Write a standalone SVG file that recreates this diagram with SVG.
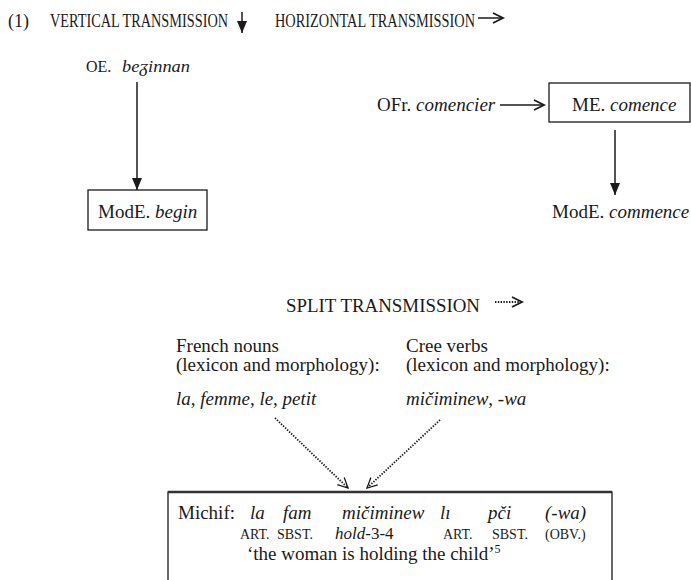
<svg xmlns="http://www.w3.org/2000/svg" width="691" height="580" viewBox="0 0 691 580">
<style>
text{font-family:"Liberation Serif","Times New Roman",serif;font-size:19px;fill:#1a1a1a}
.i{font-style:italic}
.sc{font-size:14px}
.hd{font-size:18px}
.ln{stroke:#1a1a1a;stroke-width:1.5;fill:none}
.dot{stroke:#1a1a1a;stroke-width:1.8;fill:none;stroke-dasharray:1.4 1.4}
.box{fill:none;stroke:#1a1a1a;stroke-width:1.3}
</style>
<defs>
<marker id="fa" markerUnits="userSpaceOnUse" markerWidth="12" markerHeight="12" refX="12" refY="5" orient="auto"><path d="M0,0 L12,5 L0,10 z" fill="#1a1a1a"/></marker>
<marker id="ch" markerUnits="userSpaceOnUse" markerWidth="14" markerHeight="14" refX="11" refY="6" orient="auto"><path d="M1,1 L11,6 L1,11" fill="none" stroke="#1a1a1a" stroke-width="1.8"/></marker>
<marker id="chd" markerUnits="userSpaceOnUse" markerWidth="14" markerHeight="14" refX="11" refY="6" orient="auto"><path d="M1,1 L11,6 L1,11" fill="none" stroke="#1a1a1a" stroke-width="1.3"/></marker>
</defs>
<g id="header">
<text class="hd" x="8" y="27">(1)</text>
<text class="hd" x="50" y="27" textLength="178" lengthAdjust="spacingAndGlyphs">VERTICAL TRANSMISSION</text>
<text class="hd" x="275" y="27" textLength="200" lengthAdjust="spacingAndGlyphs">HORIZONTAL TRANSMISSION</text>
<text x="286" y="312" textLength="194" lengthAdjust="spacingAndGlyphs">SPLIT TRANSMISSION</text>
</g>
<g id="legend-arrows">
<line class="ln" x1="242" y1="12" x2="242" y2="33" marker-end="url(#fa)"/>
<line class="ln" x1="478" y1="18" x2="503" y2="18" marker-end="url(#ch)" stroke-width="2"/>
<line class="dot" x1="495" y1="302" x2="522" y2="302" marker-end="url(#ch)"/>
</g>
<g id="n-oe">
<text x="86" y="72" style="font-size:16px">OE.</text>
<text x="122" y="72" class="i" style="font-size:17px" textLength="68" lengthAdjust="spacingAndGlyphs">beᵹinnan</text>
</g>
<g id="n-mode-begin">
<rect class="box" x="88" y="190" width="119" height="40"/>
<text x="98" y="218">ModE. <tspan class="i">begin</tspan></text>
</g>
<g id="n-ofr">
<text x="377" y="111">OFr. <tspan class="i">comencier</tspan></text>
</g>
<g id="n-me">
<rect class="box" x="549" y="83" width="141" height="39"/>
<text x="572" y="111">ME. <tspan class="i">comence</tspan></text>
</g>
<g id="n-mode-commence">
<text x="552" y="218">ModE. <tspan class="i">commence</tspan></text>
</g>
<g id="n-french">
<text x="176" y="352">French nouns</text>
<text x="176" y="371">(lexicon and morphology):</text>
<text x="176" y="405"><tspan class="i">la</tspan>, <tspan class="i">femme</tspan>, <tspan class="i">le</tspan>, <tspan class="i">petit</tspan></text>
</g>
<g id="n-cree">
<text x="406" y="352">Cree verbs</text>
<text x="406" y="371">(lexicon and morphology):</text>
<text x="406" y="405"><tspan class="i">mičiminew</tspan>, <tspan class="i">-wa</tspan></text>
</g>
<g id="n-michif">
<rect class="box" x="168" y="492" width="444" height="110"/>
<line x1="168" y1="492" x2="612" y2="492" stroke="#333" stroke-width="2.5"/>
<text x="178" y="519">Michif:</text>
<text x="250" y="519" class="i">la</text>
<text x="283" y="519" class="i">fam</text>
<text x="342" y="519" class="i">mičiminew</text>
<text x="440" y="519" class="i">lı</text>
<text x="488" y="519" class="i">pči</text>
<text x="545" y="519" class="i">(-wa)</text>
<text x="240" y="539" class="sc">ART.</text>
<text x="277" y="539" class="sc">SBST.</text>
<text x="335" y="539" style="font-size:17px"><tspan class="i">hold</tspan>-3-4</text>
<text x="443" y="539" class="sc">ART.</text>
<text x="492" y="539" class="sc">SBST.</text>
<text x="545" y="539" class="sc">(OBV.)</text>
<text x="247" y="560">‘the woman is holding the child’<tspan dy="-7" style="font-size:12px">5</tspan></text>
</g>
<g id="connectors">
<line class="ln" x1="137" y1="82" x2="137" y2="190" marker-end="url(#fa)"/>
<line class="ln" x1="500" y1="105" x2="544" y2="105" marker-end="url(#ch)" stroke-width="1.8"/>
<line class="ln" x1="615" y1="130" x2="615" y2="195" marker-end="url(#fa)"/>
<line class="dot" x1="275" y1="418" x2="348" y2="488" marker-end="url(#chd)"/>
<line class="dot" x1="440" y1="420" x2="367" y2="488" marker-end="url(#chd)"/>
</g>
</svg>
